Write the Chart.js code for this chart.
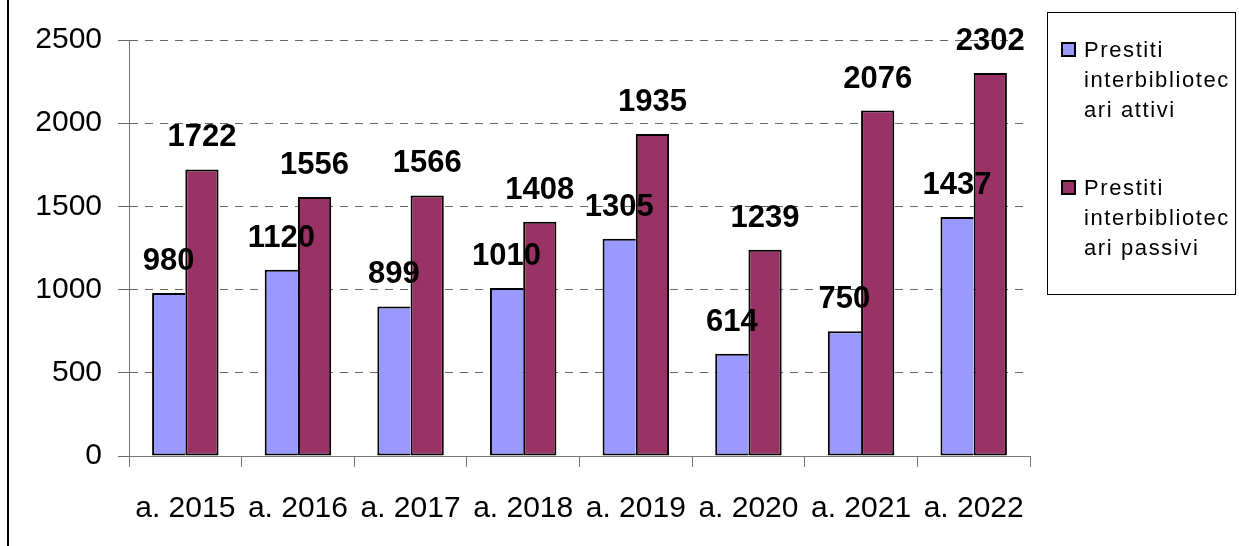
<!DOCTYPE html>
<html>
<head>
<meta charset="utf-8">
<script src="https://cdn.jsdelivr.net/npm/chart.js@4.4.0/dist/chart.umd.min.js"></script>
<style>
    body { margin: 0; background: #fff; }
    #wrap { position: relative; width: 1239px; height: 546px; overflow: hidden; font-family: "Liberation Sans", Arial, sans-serif; }
    #bordo-sx { position: absolute; left: 7px; top: 0; width: 0; height: 546px; border-left: 2px solid #000; }
    #legenda { position: absolute; left: 1047px; top: 12px; width: 189px; height: 283px; box-sizing: border-box; border: 1px solid #000; }
    .voce { position: absolute; left: 13px; font-size: 22px; line-height: 30px; letter-spacing: 1.6px; color: #000; }
    .quadrato { position: absolute; left: 0; top: 7px; width: 15px; height: 15px; box-sizing: border-box; border: 2px solid #000; }
    .testo { margin-left: 23px; white-space: nowrap; }
</style>
</head>
<body>
<div id="wrap">
    <canvas id="grafico" width="1239" height="546"></canvas>
    <div id="bordo-sx"></div>
    <div id="legenda">
        <div class="voce" style="top: 22px;">
            <div class="quadrato" style="background: #9999ff;"></div>
            <div class="testo">Prestiti<br>interbibliotec<br>ari attivi</div>
        </div>
        <div class="voce" style="top: 160px;">
            <div class="quadrato" style="background: #993366;"></div>
            <div class="testo">Prestiti<br>interbibliotec<br>ari passivi</div>
        </div>
    </div>
</div>
<script>
const anni = ['a. 2015', 'a. 2016', 'a. 2017', 'a. 2018', 'a. 2019', 'a. 2020', 'a. 2021', 'a. 2022'];
const prestitiAttivi = [980, 1120, 899, 1010, 1305, 614, 750, 1437];
const prestitiPassivi = [1722, 1556, 1566, 1408, 1935, 1239, 2076, 2302];
const nomiSerie = ['Prestiti interbibliotecari attivi', 'Prestiti interbibliotecari passivi'];

// etichette sopra le barre
const etichetteValori = {
    id: 'etichetteValori',
    afterDatasetsDraw(chart) {
        const ctx = chart.ctx;
        ctx.save();
        ctx.font = 'bold 31px "Liberation Sans", Arial, sans-serif';
        ctx.fillStyle = '#000';
        ctx.textAlign = 'center';
        ctx.textBaseline = 'alphabetic';
        chart.data.datasets.forEach((ds, i) => {
            chart.getDatasetMeta(i).data.forEach((bar, j) => {
                ctx.fillText(String(ds.data[j]), bar.x, bar.y - 23);
            });
        });
        ctx.restore();
    }
};

new Chart(document.getElementById('grafico'), {
    type: 'bar',
    data: {
        labels: anni,
        datasets: [
            // lato destro lasciato alla barra viola, cosi' il bordo in comune e' uno solo
            { label: nomiSerie[0], data: prestitiAttivi, backgroundColor: '#9999ff', borderColor: '#000', borderWidth: 2, borderSkipped: 'right' },
            { label: nomiSerie[1], data: prestitiPassivi, backgroundColor: '#993366', borderColor: '#000', borderWidth: 2, borderSkipped: false }
        ]
    },
    options: {
        responsive: false,
        animation: false,
        devicePixelRatio: 1,
        layout: { padding: { left: 0, right: 209, top: 40, bottom: 0 } },
        datasets: { bar: { barPercentage: 1, categoryPercentage: 0.59 } },
        plugins: { legend: { display: false }, tooltip: { enabled: false } },
        scales: {
            x: {
                afterFit: s => { s.height = 90; },
                grid: { drawOnChartArea: false, drawTicks: true, tickLength: 11, color: '#777' },
                border: { color: '#777', width: 1 },
                ticks: { color: '#000', padding: 24, font: { size: 30, family: '"Liberation Sans", Arial, sans-serif' } }
            },
            y: {
                min: 0,
                max: 2500,
                afterFit: s => { s.width = 129; },
                ticks: {
                    stepSize: 500,
                    color: '#000',
                    padding: 16,
                    font: { size: 30, family: '"Liberation Sans", Arial, sans-serif' },
                    callback: v => String(v)
                },
                grid: { color: '#666', tickLength: 11, lineWidth: 1 },
                border: { color: '#777', width: 1, dash: [8, 7] }
            }
        }
    },
    plugins: [etichetteValori]
});
</script>
</body>
</html>
